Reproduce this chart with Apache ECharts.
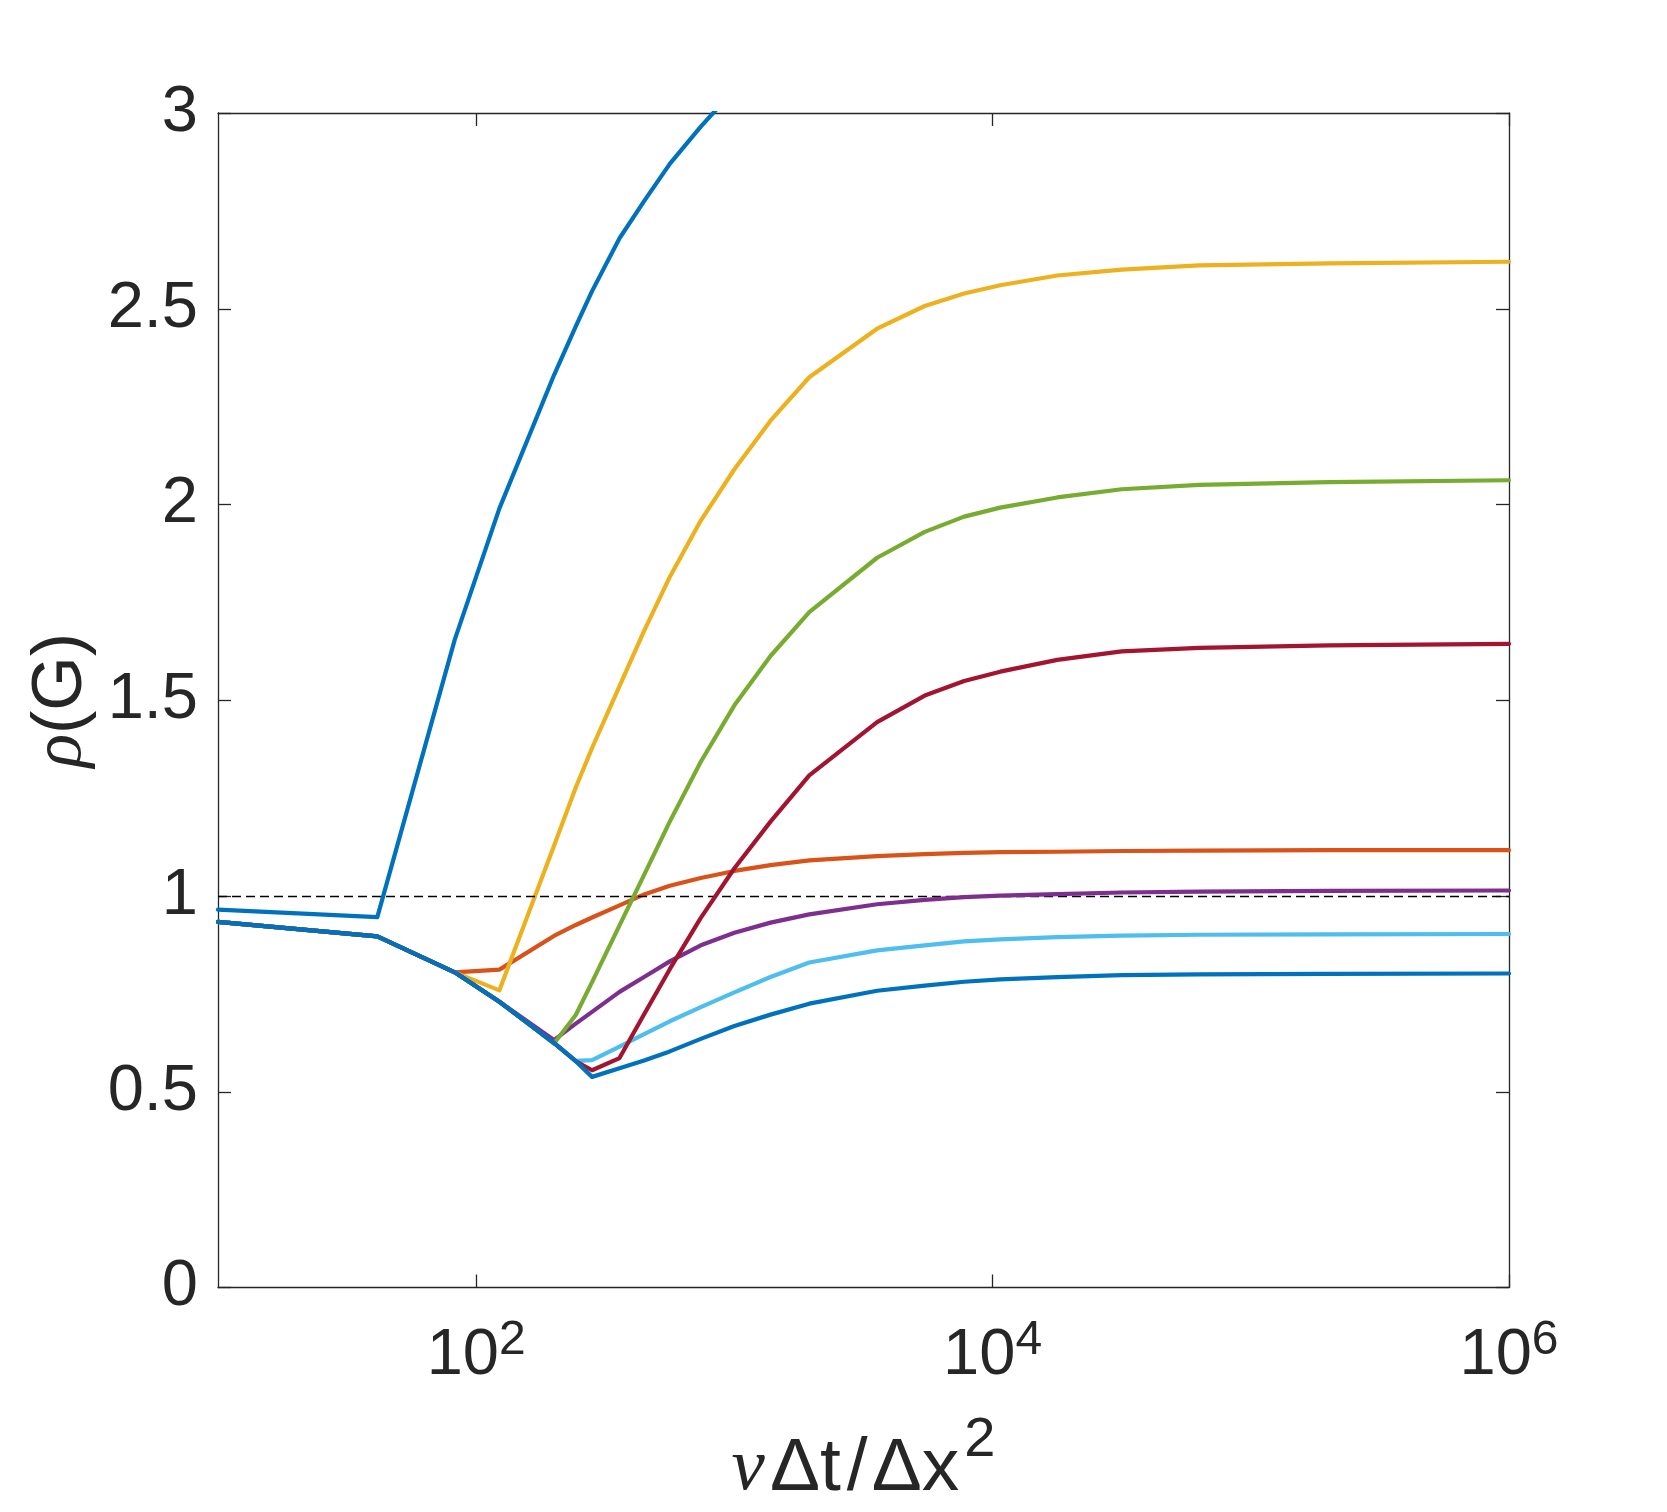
<!DOCTYPE html>
<html>
<head>
<meta charset="utf-8">
<title>rho(G) against nu dt/dx^2</title>
<script src="https://cdn.jsdelivr.net/npm/echarts@6/dist/echarts.min.js"></script>
<style>
  html, body { margin: 0; padding: 0; background: #ffffff; }
  #chart { width: 1667px; height: 1512px; }
</style>
</head>
<body>
<div id="chart"></div>
<script>
// sample points of nu*dt/dx^2 (shared by every curve)
const xValues = [10, 41.4, 82.6, 123, 200, 243, 281, 359, 447, 562, 741, 1000, 1380,
                 1950, 3570, 5460, 7760, 10700, 17800, 31600, 63100, 200000, 1000000];

// spectral radius for each curve (null = leaves the plot)
const rhoBlueTop = [0.965, 0.946, 1.655, 1.99, 2.33, 2.455, 2.545, 2.68, 2.775, 2.87, 2.965, 3.06,
                    null, null, null, null, null, null, null, null, null, null, null];
const rhoOrange = [0.934, 0.897, 0.805, 0.812, 0.898, 0.926, 0.945, 0.976, 1.004, 1.026, 1.046, 1.064, 1.079,
                   1.091, 1.102, 1.107, 1.110, 1.112, 1.113, 1.115, 1.116, 1.117, 1.117];
const rhoYellow = [0.934, 0.897, 0.805, 0.759, 1.128, 1.277, 1.378, 1.536, 1.677, 1.815, 1.959, 2.09, 2.214,
                   2.325, 2.449, 2.507, 2.539, 2.560, 2.585, 2.600, 2.611, 2.616, 2.620];
const rhoPurple = [0.934, 0.897, 0.805, 0.73, 0.632, 0.674, 0.704, 0.755, 0.793, 0.833, 0.874, 0.906, 0.932,
                   0.953, 0.979, 0.99, 0.997, 1.001, 1.005, 1.009, 1.011, 1.013, 1.014];
const rhoGreen = [0.934, 0.897, 0.805, 0.73, 0.623, 0.696, 0.78, 0.925, 1.054, 1.19, 1.343, 1.487, 1.613,
                  1.725, 1.864, 1.930, 1.969, 1.992, 2.018, 2.039, 2.050, 2.057, 2.062];
const rhoLightBlue = [0.934, 0.897, 0.805, 0.73, 0.625, 0.579, 0.581, 0.615, 0.647, 0.68, 0.716, 0.754, 0.793,
                      0.83, 0.861, 0.874, 0.884, 0.889, 0.895, 0.899, 0.901, 0.902, 0.903];
const rhoRed = [0.934, 0.897, 0.805, 0.73, 0.625, 0.578, 0.555, 0.586, 0.698, 0.813, 0.944, 1.071, 1.19,
                1.308, 1.444, 1.512, 1.549, 1.573, 1.603, 1.625, 1.634, 1.640, 1.644];
const rhoBlue = [0.934, 0.897, 0.805, 0.73, 0.625, 0.578, 0.538, 0.56, 0.58, 0.603, 0.635, 0.668, 0.697,
                 0.725, 0.758, 0.771, 0.781, 0.787, 0.793, 0.798, 0.800, 0.801, 0.802];

// x ticks are decades, written as exponents of 10
const xTickExponents = [2, 4, 6];
const yMin = 0, yMax = 3, yStep = 0.5;
const stabilityLimit = 1;

const curves = [rhoBlueTop, rhoOrange, rhoYellow, rhoPurple, rhoGreen, rhoLightBlue, rhoRed, rhoBlue];
const curveColors = ['#0072BD', '#D95319', '#EDB120', '#7E2F8E', '#77AC30', '#4DBEEE', '#A2142F', '#0072BD'];

const textColor = '#262626';
const sans = '"Liberation Sans", Arial, Helvetica, sans-serif';
const serif = '"Liberation Serif", "Times New Roman", serif';

function toPoints(values) {
    const pts = [];
    values.forEach((v, i) => {
        if (v !== null) pts.push([Math.log10(xValues[i]), v]);
    });
    return pts;
}

// one rich-text style, with extra room on the right for glyph spacing
function glyph(size, family, padRight, italic) {
    return {
        fontSize: size, lineHeight: 114, fontFamily: family, color: textColor,
        fontStyle: italic ? 'italic' : 'normal', padding: [0, padRight, 0, 0]
    };
}

const boxLine = { show: true, onZero: false, lineStyle: { color: textColor, width: 1.3 } };
const tickStyle = { color: textColor, width: 1.3 };

const seriesList = curves.map((vals, i) => ({
    type: 'line',
    data: toPoints(vals),
    showSymbol: false,
    symbol: 'none',
    clip: true,
    lineStyle: { color: curveColors[i], width: 4.2, join: 'round', cap: 'round' },
    itemStyle: { color: curveColors[i] },
    z: 2 + i
}));

// dashed line at rho = 1
seriesList[0].markLine = {
    silent: true,
    symbol: 'none',
    animation: false,
    label: { show: false },
    lineStyle: { color: '#000000', width: 1.3, type: [9, 5] },
    data: [{ yAxis: stabilityLimit }]
};

const chart = echarts.init(document.getElementById('chart'), null, { renderer: 'canvas' });

chart.setOption({
    animation: false,
    backgroundColor: '#ffffff',
    grid: { left: 218, right: 158, top: 113, bottom: 224, containLabel: false },
    xAxis: [{
        type: 'value',
        position: 'bottom',
        min: 1,
        max: 6,
        axisLine: boxLine,
        axisTick: { show: true, inside: true, length: 13, customValues: xTickExponents, lineStyle: tickStyle },
        axisLabel: {
            show: true,
            customValues: xTickExponents,
            margin: 29,
            formatter: v => '{b|10}{s|' + v + '}',
            rich: {
                b: { fontSize: 65, lineHeight: 80, fontFamily: sans, color: textColor },
                s: { fontSize: 48, lineHeight: 48, verticalAlign: 'top', fontFamily: sans, color: textColor }
            }
        },
        splitLine: { show: false },
        name: '{nu|ν}{d|Δ}{t|t}{sl|/}{d|Δ}{x|x}{s|2}',
        nameLocation: 'middle',
        nameGap: 125,
        nameTextStyle: {
            rich: {
                nu: glyph(75, serif, 5, true),
                d: glyph(75, sans, 0, false),
                t: glyph(75, sans, 6, false),
                sl: glyph(75, sans, 4, false),
                x: glyph(75, sans, 5, false),
                s: { fontSize: 56, lineHeight: 56, verticalAlign: 'top', fontFamily: sans, color: textColor }
            }
        }
    }, {
        type: 'value',
        position: 'top',
        min: 1,
        max: 6,
        axisLine: boxLine,
        axisTick: { show: true, inside: true, length: 13, customValues: xTickExponents, lineStyle: tickStyle },
        axisLabel: { show: false },
        splitLine: { show: false }
    }],
    yAxis: [{
        type: 'value',
        position: 'left',
        min: yMin,
        max: yMax,
        interval: yStep,
        axisLine: boxLine,
        axisTick: { show: true, inside: true, length: 13, lineStyle: tickStyle },
        axisLabel: { show: true, margin: 20, fontSize: 65, fontFamily: sans, color: textColor },
        splitLine: { show: false },
        name: '{r|ρ}{b|(G)}',
        nameLocation: 'middle',
        nameGap: 118,
        nameTextStyle: {
            rich: {
                r: { fontSize: 70, fontFamily: serif, fontStyle: 'italic', color: textColor },
                b: { fontSize: 70, fontFamily: sans, color: textColor }
            }
        }
    }, {
        type: 'value',
        position: 'right',
        min: yMin,
        max: yMax,
        interval: yStep,
        axisLine: boxLine,
        axisTick: { show: true, inside: true, length: 13, lineStyle: tickStyle },
        axisLabel: { show: false },
        splitLine: { show: false }
    }],
    series: seriesList
});
</script>
</body>
</html>
